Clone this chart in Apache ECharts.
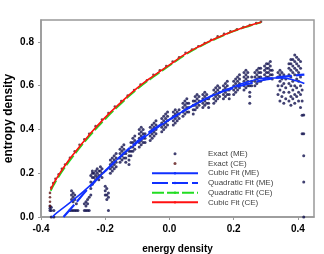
<!DOCTYPE html>
<html><head><meta charset="utf-8">
<script src="https://cdn.jsdelivr.net/npm/echarts@6/dist/echarts.min.js"></script>
<style>html,body{margin:0;padding:0;background:#fff}#c{width:324px;height:254px}</style>
</head><body><div id="c"></div>
<script>
// Exact (ME): columns [x, y1, y2, ...]
var meCols = [
[-0.372,0.03,0.04,0.05],[-0.368,0.0,0.03,0.045],[-0.36,0.0,0.03],
[-0.31,0.03],[-0.305,0.03,0.08,0.1,0.12],[-0.3,0.03,0.07,0.09,0.11],[-0.295,0.03,0.08,0.1],[-0.29,0.03,0.06],[-0.285,0.03],
[-0.265,0.03,0.06],[-0.26,0.03,0.05,0.07],[-0.255,0.03,0.06,0.08],[-0.25,0.03,0.09],
[-0.245,0.1,0.13,0.16,0.19],[-0.24,0.15,0.18,0.2,0.21],[-0.235,0.16,0.18,0.2],[-0.23,0.17,0.19,0.21],[-0.225,0.18,0.2,0.22],[-0.22,0.17,0.19,0.21],[-0.215,0.19,0.21,0.23],[-0.21,0.18,0.2,0.22],
[-0.2,0.1,0.12,0.14],[-0.195,0.08,0.1,0.13],[-0.19,0.03,0.09,0.11],
[-0.184,0.2,0.22,0.24,0.26],[-0.178,0.21,0.23,0.25,0.27],[-0.172,0.22,0.24,0.26,0.28],[-0.166,0.23,0.25,0.27,0.29],
[-0.154,0.25,0.27,0.29,0.31],[-0.148,0.26,0.28,0.3,0.32],[-0.142,0.27,0.29,0.31,0.33],[-0.136,0.25,0.27,0.29],
[-0.126,0.24,0.26,0.28,0.3],[-0.12,0.28,0.3,0.32,0.34],[-0.114,0.3,0.32,0.34,0.36],[-0.108,0.31,0.33,0.35,0.37],
[-0.094,0.32,0.34,0.36,0.38,0.4],[-0.088,0.33,0.35,0.37,0.39,0.41],[-0.082,0.34,0.36,0.38,0.4],[-0.076,0.34,0.36,0.38],
[-0.06,0.35,0.37,0.39,0.41],[-0.054,0.36,0.38,0.4,0.42],[-0.048,0.37,0.39,0.41,0.43],[-0.042,0.38,0.4,0.42,0.44],
[-0.024,0.39,0.41,0.43,0.45],[-0.018,0.4,0.42,0.44,0.46],[-0.012,0.41,0.43,0.45,0.47],[-0.006,0.42,0.44,0.46,0.48],
[0.012,0.42,0.44,0.46,0.48],[0.018,0.43,0.45,0.47,0.49],[0.024,0.44,0.46,0.48],[0.03,0.45,0.47,0.49],
[0.042,0.46,0.48,0.5,0.52],[0.048,0.47,0.49,0.51,0.53],[0.054,0.48,0.5,0.52,0.54],[0.06,0.48,0.5,0.52],
[0.074,0.47,0.49,0.51,0.53],[0.08,0.49,0.51,0.53,0.55],[0.086,0.5,0.52,0.54,0.56],[0.092,0.51,0.53,0.55],
[0.104,0.5,0.52,0.54,0.56],[0.11,0.51,0.53,0.55,0.57],[0.116,0.52,0.54,0.56],[0.122,0.5,0.52,0.54],
[0.138,0.52,0.54,0.56,0.58],[0.144,0.53,0.55,0.57,0.59],[0.15,0.54,0.56,0.58,0.6],[0.156,0.55,0.57,0.59],
[0.168,0.54,0.56,0.58,0.6],[0.174,0.55,0.57,0.59,0.61],[0.18,0.56,0.58,0.6,0.62],[0.186,0.54,0.56,0.58],
[0.2,0.56,0.58,0.6,0.62],[0.206,0.57,0.59,0.61,0.63],[0.212,0.58,0.6,0.62,0.64],[0.218,0.59,0.61,0.63,0.65],
[0.232,0.58,0.6,0.62,0.64,0.66],[0.238,0.59,0.61,0.63,0.65,0.67],[0.244,0.6,0.62,0.64,0.66],[0.25,0.52,0.55,0.57,0.6],[0.256,0.6,0.62,0.64],
[0.266,0.6,0.62,0.64,0.66],[0.272,0.61,0.63,0.65,0.67],[0.278,0.62,0.64,0.66,0.68],[0.284,0.62,0.64,0.66,0.68],
[0.296,0.63,0.65,0.67,0.69],[0.302,0.64,0.66,0.68,0.7],[0.308,0.64,0.66,0.68,0.7],[0.314,0.65,0.67,0.69,0.71],[0.32,0.63,0.65,0.67],
[0.338,0.56,0.6,0.64,0.66],[0.344,0.53,0.58,0.62,0.65,0.67],[0.35,0.55,0.6,0.63,0.66],[0.356,0.52,0.57,0.61,0.65],[0.362,0.54,0.59,0.63],
[0.372,0.53,0.57,0.61,0.65,0.68,0.7],[0.378,0.51,0.55,0.6,0.64,0.67,0.7,0.72],[0.384,0.54,0.58,0.62,0.66,0.69,0.72],
[0.39,0.52,0.56,0.6,0.65,0.68,0.71,0.74],[0.396,0.55,0.59,0.63,0.67,0.7,0.73],[0.402,0.53,0.57,0.62,0.66,0.69,0.72],
[0.408,0.5,0.56,0.6,0.64,0.68,0.71],[0.413,0.38,0.465,0.53,0.58],[0.418,0.0,0.16,0.28,0.38,0.466]
];
// Exact (CE)
var ceX = [-0.372,-0.372,-0.372,-0.372,-0.368,-0.362,-0.355,-0.345,-0.335,-0.325,-0.31,-0.295,-0.28,-0.265,-0.25,-0.23,-0.21,-0.19,-0.17,-0.15,-0.13,-0.11,-0.09,-0.07,-0.05,-0.03,-0.01,0.01,0.03,0.05,0.07,0.09,0.11,0.13,0.15,0.17,0.19,0.21,0.23,0.25,0.27,0.285];
var ceY = [0.05,0.07,0.09,0.11,0.135,0.155,0.175,0.195,0.22,0.24,0.27,0.3,0.33,0.355,0.38,0.415,0.445,0.475,0.505,0.53,0.555,0.58,0.605,0.625,0.65,0.67,0.69,0.71,0.73,0.75,0.765,0.78,0.795,0.81,0.825,0.837,0.848,0.858,0.868,0.877,0.886,0.892];
// Cubic Fit (ME)
var cubMEX = [-0.365,-0.35,-0.3,-0.25,-0.2,-0.15,-0.1,-0.05,0.0,0.05,0.1,0.15,0.2,0.25,0.3,0.35,0.4,0.42];
var cubMEY = [0.0,0.02,0.077,0.14,0.21,0.28,0.34,0.395,0.445,0.49,0.53,0.565,0.595,0.62,0.635,0.635,0.62,0.61];
// Quadratic Fit (ME)
var quaMEX = [-0.33,-0.3,-0.25,-0.2,-0.15,-0.1,-0.05,0.0,0.05,0.1,0.15,0.2,0.25,0.3,0.35,0.42];
var quaMEY = [0.0,0.05,0.135,0.21,0.28,0.345,0.4,0.445,0.49,0.53,0.565,0.59,0.61,0.628,0.64,0.65];
// Quadratic Fit (CE)
var quaCEX = [-0.37,-0.36,-0.35,-0.33,-0.3,-0.25,-0.2,-0.15,-0.1,-0.05,0.0,0.05,0.1,0.15,0.2,0.25,0.285];
var quaCEY = [0.12,0.148,0.173,0.218,0.278,0.368,0.448,0.52,0.585,0.641,0.692,0.742,0.783,0.818,0.849,0.874,0.889];
// Cubic Fit (CE)
var cubCEX = [-0.37,-0.36,-0.35,-0.33,-0.3,-0.25,-0.2,-0.15,-0.1,-0.05,0.0,0.05,0.1,0.15,0.2,0.25,0.285];
var cubCEY = [0.125,0.155,0.18,0.225,0.285,0.375,0.455,0.525,0.59,0.645,0.695,0.745,0.785,0.82,0.85,0.875,0.89];

function zip(a,b){return a.map(function(v,i){return [v,b[i]];});}
var meData = [];
meCols.forEach(function(c){for(var i=1;i<c.length;i++){meData.push([c[0],c[i]]);}});

var FONT = '"Liberation Sans", Arial, sans-serif';
var chart = echarts.init(document.getElementById('c'), null, {renderer:'canvas'});
chart.setOption({
  animation:false,
  grid:{left:41,right:10,top:20,bottom:37,outerBoundsMode:'none',containLabel:false,show:true,borderColor:'#999',borderWidth:1.5,backgroundColor:'transparent'},
  legend:{
    orient:'vertical', left:151, top:149, padding:0, itemWidth:46, itemHeight:3, itemGap:0,
    textStyle:{fontFamily:FONT,fontSize:8,color:'#444',lineHeight:9.7,padding:[0,0,0,5]},
    data:['Exact (ME)','Exact (CE)','Cubic Fit (ME)','Quadratic Fit (ME)','Quadratic Fit (CE)','Cubic Fit (CE)']
  },
  xAxis:{type:'value',min:-0.4,max:0.45,interval:0.2,
    name:'energy density',nameLocation:'middle',nameGap:27,nameMoveOverlap:false,
    nameTextStyle:{fontFamily:FONT,fontSize:10,fontWeight:'bold',color:'#000'},
    axisLine:{show:true,onZero:false,lineStyle:{color:'#999',width:1.5}},
    axisTick:{show:true,length:3,lineStyle:{color:'#999'}},
    axisLabel:{margin:7,showMaxLabel:false,fontFamily:FONT,fontSize:10,fontWeight:'bold',color:'#000',
      formatter:function(v){return v.toFixed(1);}},
    splitLine:{show:false}},
  yAxis:{type:'value',min:0,max:0.9,interval:0.2,
    name:'entropy density',nameLocation:'middle',nameGap:26,nameMoveOverlap:false,
    nameTextStyle:{fontFamily:FONT,fontSize:12,fontWeight:'bold',color:'#000'},
    axisLine:{show:true,onZero:false,lineStyle:{color:'#999',width:1.5}},
    axisTick:{show:true,length:3,lineStyle:{color:'#999'}},
    axisLabel:{margin:7,showMaxLabel:false,fontFamily:FONT,fontSize:10,fontWeight:'bold',color:'#000',
      formatter:function(v){return v.toFixed(1);}},
    splitLine:{show:false}},
  series:[
    {name:'Exact (ME)',type:'scatter',data:meData,symbol:'circle',symbolSize:3,itemStyle:{color:'#10104e'},z:2},
    {name:'Exact (CE)',type:'scatter',data:zip(ceX,ceY),symbol:'circle',symbolSize:2.6,itemStyle:{color:'#5e1515'},z:2},
    {name:'Cubic Fit (ME)',type:'line',data:zip(cubMEX,cubMEY),smooth:true,symbol:'none',showSymbol:false,
      lineStyle:{color:'#1030ff',width:1.5},itemStyle:{color:'#1030ff'},z:3},
    {name:'Quadratic Fit (ME)',type:'line',data:zip(quaMEX,quaMEY),smooth:true,symbol:'none',showSymbol:false,
      lineStyle:{color:'#1030ff',width:2.2,type:[16,4]},itemStyle:{color:'#1030ff'},z:3},
    {name:'Quadratic Fit (CE)',type:'line',data:zip(quaCEX,quaCEY),smooth:true,symbol:'none',showSymbol:false,
      lineStyle:{color:'#22dd22',width:2,type:[12,3]},itemStyle:{color:'#22dd22'},z:3},
    {name:'Cubic Fit (CE)',type:'line',data:zip(cubCEX,cubCEY),smooth:true,symbol:'none',showSymbol:false,
      lineStyle:{color:'#ff1010',width:1.6},itemStyle:{color:'#ff1010'},z:4}
  ]
});
</script></body></html>
